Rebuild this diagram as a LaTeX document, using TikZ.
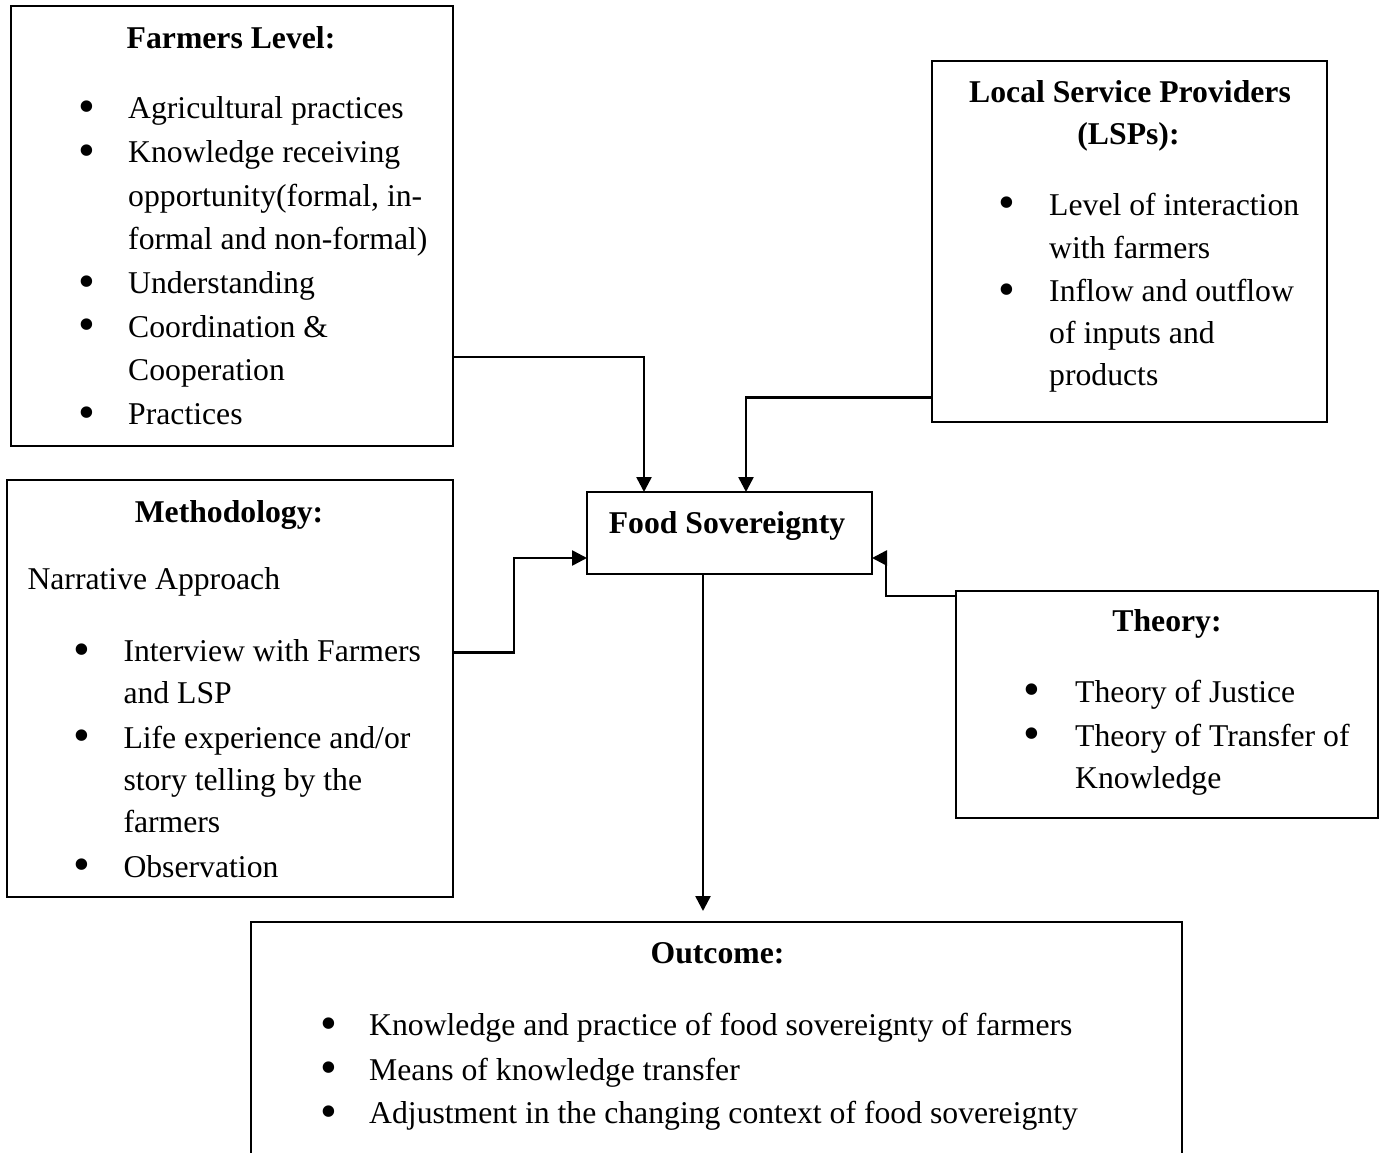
\documentclass[tikz,border=0pt]{standalone}
\usepackage{fontspec}
\setmainfont{Liberation Serif}
\usetikzlibrary{arrows.meta}
\tikzset{
  box/.style={draw, line width=2.2pt, inner sep=0pt, outer sep=0pt, anchor=north west},
  conn/.style={line width=2.6pt, -{Triangle[length=15pt,width=15pt]}},
  txt/.style={anchor=base west, inner sep=0pt, font=\fontsize{31.7pt}{43.5pt}\selectfont},
  ttl/.style={anchor=base, inner sep=0pt, font=\fontsize{31.7pt}{43.5pt}\selectfont\bfseries},
  bul/.style={anchor=center, inner sep=0pt, font=\fontsize{48pt}{48pt}\selectfont}
}
\begin{document}
\begin{tikzpicture}[x=1pt,y=-1pt]
\useasboundingbox (0,0) rectangle (1382,1153);
\clip (0,0) rectangle (1382,1153);

% boxes
\node[box, minimum width=442pt, minimum height=440pt] (farm) at (11,6) {};
\node[box, minimum width=395pt, minimum height=361pt] (lsp) at (932,61) {};
\node[box, minimum width=446pt, minimum height=417pt] (meth) at (7,480) {};
\node[box, minimum width=285pt, minimum height=82pt] (fs) at (587,492) {};
\node[box, minimum width=422pt, minimum height=227pt] (th) at (956,591) {};
\node[box, minimum width=931pt, minimum height=260pt] (out) at (251,922) {};
\coordinate (outtip) at (703,911);

% connectors
\draw[conn] (farm.east) -- ++(0,131) -| ([xshift=-85.5pt]fs.north);
\draw[conn] ([yshift=-61pt]lsp.west) -- ++(0,95) -| ([xshift=16.5pt]fs.north);
\draw[conn] ([yshift=36pt]meth.east) -- ++(61,0) |- ([yshift=-25pt]fs.west);
\draw[conn] ([yshift=108.5pt]th.west) -- ++(-70,0) |- ([yshift=-25pt]fs.east);
\draw[conn] ([xshift=-26.5pt]fs.south) -- (outtip);

\begin{scope}[shift={(0,2)}]
% Food Sovereignty
\node[ttl] (fst) at (727,531.7) {Food Sovereignty};

% Farmers Level
\node[ttl] (ft) at (231,47) {Farmers Level:};
\node[bul] (fb1) at (87,110) {•};
\node[txt] (f1) at (128,117) {Agricultural practices};
\node[bul] (fb2) at (87,153.6) {•};
\node[txt] (f2) at (128,160.6) {Knowledge receiving};
\node[txt] (f3) at (128,204.2) {opportunity(formal, in-};
\node[txt] (f4) at (128,247.8) {formal and non-formal)};
\node[bul] (fb3) at (87,284.4) {•};
\node[txt] (f5) at (128,291.4) {Understanding};
\node[bul] (fb4) at (87,328) {•};
\node[txt] (f6) at (128,335) {Coordination \&};
\node[txt] (f7) at (128,378.6) {Cooperation};
\node[bul] (fb5) at (87,415.2) {•};
\node[txt] (f8) at (128,422.2) {Practices};

% LSPs
\node[ttl] (lt1) at (1130,100.7) {Local Service Providers};
\node[ttl] (lt2) at (1128.5,142.7) {(LSPs):};
\node[bul] (lb1) at (1007,206) {•};
\node[txt] (l1) at (1049,213) {Level of interaction};
\node[txt] (l2) at (1049,256) {with farmers};
\node[bul] (lb2) at (1007,293) {•};
\node[txt] (l3) at (1049,299) {Inflow and outflow};
\node[txt] (l4) at (1049,341.7) {of inputs and};
\node[txt] (l5) at (1049,383.5) {products};

% Methodology
\node[ttl] (mt) at (229,520) {Methodology:};
\node[txt] (m0) at (27.3,587) {Narrative Approach};
\node[bul] (mb1) at (81.7,652.3) {•};
\node[txt] (m1) at (123.3,659.3) {Interview with Farmers};
\node[txt] (m2) at (123.3,701.5) {and LSP};
\node[bul] (mb2) at (81.7,739) {•};
\node[txt] (m3) at (123.3,746) {Life experience and/or};
\node[txt] (m4) at (123.3,788.5) {story telling by the};
\node[txt] (m5) at (123.3,830.5) {farmers};
\node[bul] (mb3) at (81.7,868) {•};
\node[txt] (m6) at (123.3,875) {Observation};

% Theory
\node[ttl] (tt) at (1167,629.3) {Theory:};
\node[bul] (tb1) at (1032,693) {•};
\node[txt] (t1) at (1075,700) {Theory of Justice};
\node[bul] (tb2) at (1032,737) {•};
\node[txt] (t2) at (1075,744) {Theory of Transfer of};
\node[txt] (t3) at (1075,786.7) {Knowledge};

% Outcome
\node[ttl] (ot) at (717.5,961.7) {Outcome:};
\node[bul] (ob1) at (329,1026.3) {•};
\node[txt] (o1) at (369,1033.3) {Knowledge and practice of food sovereignty of farmers};
\node[bul] (ob2) at (329,1071) {•};
\node[txt] (o2) at (369,1078) {Means of knowledge transfer};
\node[bul] (ob3) at (329,1114.7) {•};
\node[txt] (o3) at (369,1121.7) {Adjustment in the changing context of food sovereignty};
\end{scope}
\end{tikzpicture}
\end{document}
